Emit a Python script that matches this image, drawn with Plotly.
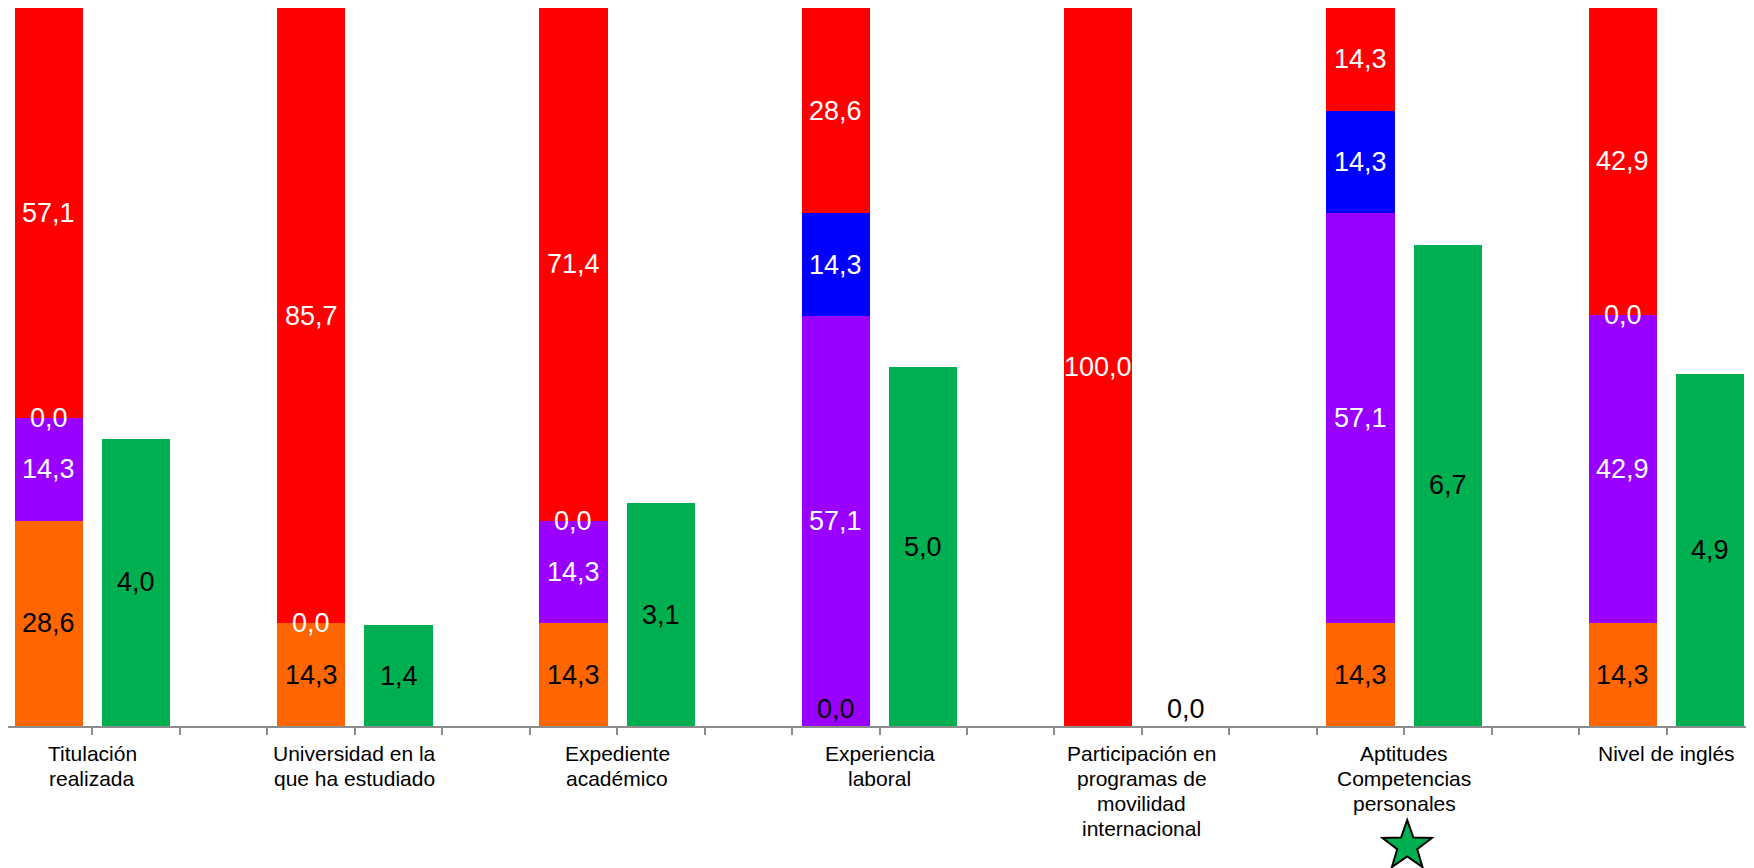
import math
import plotly.graph_objects as go

categories = ["Titulación<br>realizada", "Universidad en la<br>que ha estudiado",
              "Expediente<br>académico", "Experiencia<br>laboral",
              "Participación en<br>programas de<br>movilidad<br>internacional",
              "Aptitudes<br>Competencias<br>personales", "Nivel de inglés"]
orange = [28.6, 14.3, 14.3, 0.0, None, 14.3, 14.3]
purple = [14.3, None, 14.3, 57.1, None, 57.1, 42.9]
blue = [0.0, 0.0, 0.0, 14.3, None, 14.3, 0.0]
red = [57.1, 85.7, 71.4, 28.6, 100.0, 14.3, 42.9]
green = [4.0, 1.4, 3.1, 5.0, 0.0, 6.7, 4.9]
starred = 5  # index of category marked with star

NUM_FONT = "Liberation Sans Narrow, Arial Narrow, Liberation Sans, Arial, sans-serif"
LBL_FONT = "Liberation Sans, Arial, sans-serif"
NUM_SIZE = 27

def fmt(v):
    return f"{v:.1f}".replace(".", ",")

n = len(categories)
xs_stack = [3 * i for i in range(n)]
xs_green = [3 * i + 1 for i in range(n)]
W = 0.78
SLOT_PX = 87.45
FIG_W, FIG_H = 1746, 860
x0 = -0.5 + 3 / SLOT_PX
x1 = x0 + FIG_W / SLOT_PX

fig = go.Figure()
series = [(orange, "#FF6600", "black"), (purple, "#9900FF", "white"),
          (blue, "#0000FF", "white"), (red, "#FF0000", "white")]
annotations = []
cum = [0.0] * n
for vals, col, tcol in series:
    fig.add_trace(go.Bar(x=xs_stack, y=[v if v is not None else 0 for v in vals],
                         width=W, marker=dict(color=col, line=dict(width=0)),
                         yaxis="y", showlegend=False, hoverinfo="skip"))
    for i, v in enumerate(vals):
        if v is None:
            continue
        font = dict(family=NUM_FONT, size=NUM_SIZE, color=tcol)
        if v == 0 and cum[i] == 0:
            annotations.append(dict(x=xs_stack[i], y=0, xref="x", yref="y", text=fmt(v),
                                    showarrow=False, yanchor="bottom", font=font))
        else:
            annotations.append(dict(x=xs_stack[i], y=cum[i] + v / 2, xref="x", yref="y",
                                    text=fmt(v), showarrow=False, yanchor="middle", font=font))
        cum[i] += v

fig.add_trace(go.Bar(x=xs_green, y=green, width=W,
                     marker=dict(color="#00B050", line=dict(width=0)),
                     yaxis="y2", showlegend=False, hoverinfo="skip"))
for i, v in enumerate(green):
    font = dict(family=NUM_FONT, size=NUM_SIZE, color="black")
    if v == 0:
        annotations.append(dict(x=xs_green[i], y=0, xref="x", yref="y2", text=fmt(v),
                                showarrow=False, yanchor="bottom", font=font))
    else:
        annotations.append(dict(x=xs_green[i], y=v / 2, xref="x", yref="y2", text=fmt(v),
                                showarrow=False, yanchor="middle", font=font))

for i, c in enumerate(categories):
    for k, line in enumerate(c.split("<br>")):
        annotations.append(dict(x=3 * i + 0.5, y=0, xref="x", yref="paper", text=line,
                                showarrow=False, yanchor="middle", yshift=-27 - 25 * k,
                                font=dict(family=LBL_FONT, size=21, color="black")))

# star marker below the highlighted category (pixel-sized path)
R_OUT, R_IN = 26, 10.5
cy = -120
cx = 3
pts = []
for k in range(10):
    r = R_OUT if k % 2 == 0 else R_IN
    a = math.pi / 2 + k * math.pi / 5
    pts.append((cx + r * math.cos(a), cy + r * math.sin(a)))
path = "M " + " L ".join(f"{px:.2f},{py:.2f}" for px, py in pts) + " Z"

fig.update_layout(
    width=FIG_W, height=FIG_H, barmode="stack",
    margin=dict(l=0, r=0, t=0, b=142),
    paper_bgcolor="white", plot_bgcolor="white",
    xaxis=dict(range=[x0, x1], showgrid=False, zeroline=False,
               showline=True, linecolor="#8C8C8C", linewidth=2,
               tickmode="linear", tick0=-0.5, dtick=1, ticks="outside",
               ticklen=7, tickwidth=2, tickcolor="#8C8C8C", showticklabels=False),
    yaxis=dict(range=[0, 100], visible=False),
    yaxis2=dict(range=[0, 10], overlaying="y", visible=False),
    annotations=annotations,
    shapes=[dict(type="path", xref="x", yref="paper", xsizemode="pixel", ysizemode="pixel",
                 xanchor=3 * starred + 0.5, yanchor=0, path=path, layer="above",
                 fillcolor="#00B050", line=dict(color="black", width=2))],
)
fig.write_html("out.html")
